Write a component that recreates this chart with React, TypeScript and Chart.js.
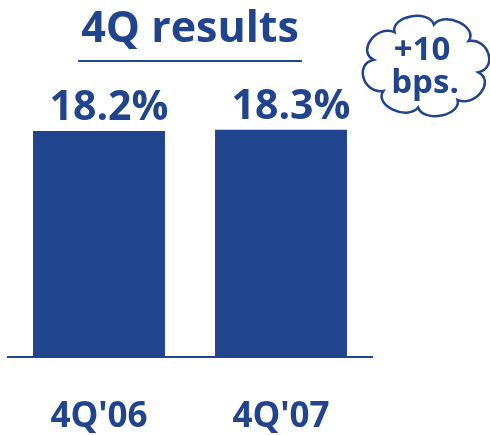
import React, { useEffect, useRef } from "react";
import { Chart, registerables } from "chart.js";

Chart.register(...registerables);

const categories = ["4Q'06", "4Q'07"];
const values = [18.2, 18.3];
const valueLabels = ["18.2%", "18.3%"];
const titleText = "4Q results";
const cloudLines = ["+10", "bps."];
const yMin = 0;
const yMax = 20;

const BLUE = "#21448F";
const FONT = "'Open Sans', 'Noto Sans', sans-serif";

function drawCloud(ctx: CanvasRenderingContext2D, cx: number, cy: number, rx: number, ry: number, n: number, bulge: number) {
  const d = (Math.PI * 2) / n;
  const start = -Math.PI / 2 + 0.15;
  const pt = (a: number, s: number) => [cx + rx * s * Math.cos(a), cy + ry * s * Math.sin(a)];
  ctx.beginPath();
  for (let i = 0; i < n; i++) {
    const a0 = start + i * d;
    const a1 = a0 + d;
    const p0 = pt(a0, 1);
    const c0 = pt(a0 + d * 0.15, bulge);
    const c1 = pt(a0 + d * 0.85, bulge);
    const p1 = pt(a1, 1);
    if (i === 0) ctx.moveTo(p0[0], p0[1]);
    ctx.bezierCurveTo(c0[0], c0[1], c1[0], c1[1], p1[0], p1[1]);
  }
  ctx.closePath();
  ctx.fillStyle = "#ffffff";
  ctx.fill();
  ctx.stroke();
}

const decorPlugin = {
  id: "decor",
  afterDatasetsDraw(chart: any) {
    const ctx = chart.ctx as CanvasRenderingContext2D;
    const meta = chart.getDatasetMeta(0);
    ctx.save();
    ctx.fillStyle = BLUE;
    ctx.font = `700 41px ${FONT}`;
    ctx.textAlign = "center";
    ctx.textBaseline = "alphabetic";
    meta.data.forEach((bar: any, i: number) => {
      ctx.fillText(valueLabels[i], bar.x + 10, bar.y - 11);
    });
    ctx.restore();
  },
  afterDraw(chart: any) {
    const ctx = chart.ctx as CanvasRenderingContext2D;
    const area = chart.chartArea;
    ctx.save();
    // title underline
    ctx.font = `700 43px ${FONT}`;
    const w = ctx.measureText(titleText).width + 6;
    const cx = (area.left + area.right) / 2;
    const tb = chart.titleBlock;
    const uy = (tb ? tb.top : 0) + 61;
    ctx.strokeStyle = BLUE;
    ctx.lineWidth = 2;
    ctx.beginPath();
    ctx.moveTo(cx - w / 2, uy);
    ctx.lineTo(cx + w / 2, uy);
    ctx.stroke();
    // cloud
    ctx.lineWidth = 2.5;
    drawCloud(ctx, 426, 66, 53, 42, 8, 1.36);
    ctx.fillStyle = BLUE;
    ctx.font = `700 33px ${FONT}`;
    ctx.textAlign = "center";
    ctx.textBaseline = "alphabetic";
    ctx.fillText(cloudLines[0], 422, 60);
    ctx.fillText(cloudLines[1], 425, 93);
    ctx.restore();
  },
};

export default function App() {
  const ref = useRef<HTMLCanvasElement>(null);
  useEffect(() => {
    if (!ref.current) return;
    const chart = new Chart(ref.current, {
      type: "bar",
      data: {
        labels: categories,
        datasets: [
          {
            data: values,
            backgroundColor: BLUE,
            borderWidth: 0,
            categoryPercentage: 1,
            barPercentage: 0.725,
          },
        ],
      },
      options: {
        responsive: false,
        animation: false,
        devicePixelRatio: 1,
        layout: { padding: { left: 8, right: 118, top: 0, bottom: -43 } },
        plugins: {
          legend: { display: false },
          tooltip: { enabled: false },
          title: {
            display: true,
            text: titleText,
            color: BLUE,
            fullSize: false,
            font: { family: FONT, size: 43, weight: "bold", lineHeight: 1.2 },
            padding: { top: 4, bottom: 53 },
          },
        },
        scales: {
          x: {
            grid: { display: false, drawTicks: false },
            border: { display: true, color: BLUE, width: 2 },
            ticks: {
              color: BLUE,
              font: { family: FONT, size: 35, weight: "bold", lineHeight: 1 },
              padding: 43,
            },
          },
          y: { display: false, min: yMin, max: yMax },
        },
      },
      plugins: [decorPlugin],
    } as any);
    let alive = true;
    if ((document as any).fonts) {
      (document as any).fonts.ready.then(() => {
        if (alive) chart.update();
      });
    }
    return () => {
      alive = false;
      chart.destroy();
    };
  }, []);
  return (
    <div style={{ position: "absolute", left: 0, top: 0, width: 490, height: 435, background: "#ffffff" }}>
      <canvas ref={ref} width={490} height={435} style={{ width: 490, height: 435, display: "block" }} />
    </div>
  );
}
